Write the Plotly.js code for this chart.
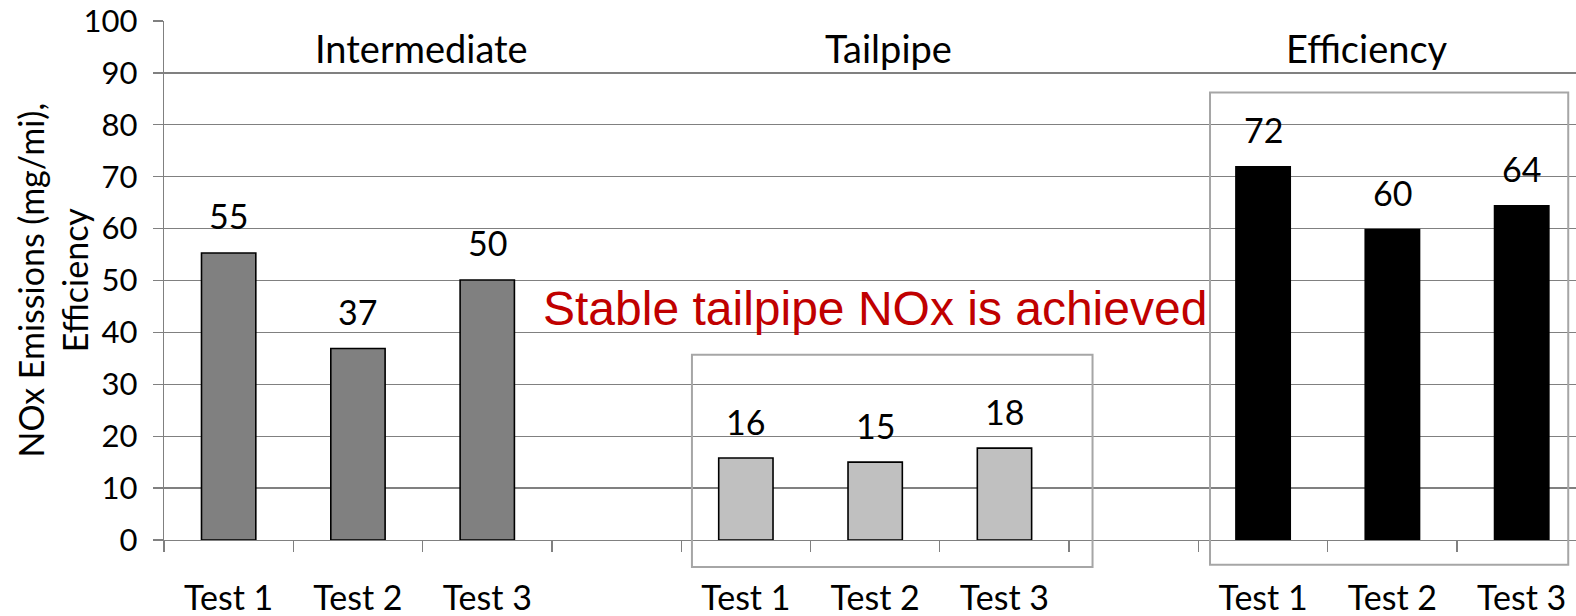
<!DOCTYPE html>
<html><head><meta charset="utf-8">
<script src="https://cdn.plot.ly/plotly-3.0.1.min.js"></script>
<style>html,body{margin:0;padding:0;background:#fff}</style>
</head><body><div id="chart" style="width:1576px;height:616px"></div>
<script>
// Categories (zero-width spaces keep repeated labels distinct)
const categories = ["Test 1","Test 2","Test 3"," ","Test 1\u200b","Test 2\u200b","Test 3\u200b","  ","Test 1\u200b\u200b","Test 2\u200b\u200b","Test 3\u200b\u200b"];
const blankSlots = [" ","  "];
const intermediateX = ["Test 1","Test 2","Test 3"];
const intermediateY = [55.3, 36.9, 50.1];
const tailpipeX = ["Test 1\u200b","Test 2\u200b","Test 3\u200b"];
const tailpipeY = [15.8, 15.0, 17.7];
const efficiencyX = ["Test 1\u200b\u200b","Test 2\u200b\u200b","Test 3\u200b\u200b"];
const efficiencyY = [71.9, 59.8, 64.4];
const groupTitles = ["Intermediate","Tailpipe","Efficiency"];
const calloutText = "Stable tailpipe NOx is achieved";
const yTitle = "NOx Emissions (mg/mi),<br>Efficiency";

const FONT = "Lato, 'Open Sans', sans-serif";

function barTrace(x, y, color, lineColor) {
  return {type:"bar", x:x, y:y, width:0.42,
    marker:{color:color, line:{color:lineColor, width:1.6}},
    hoverinfo:"skip", showlegend:false};
}
const traces = [
  barTrace(intermediateX, intermediateY, "#808080", "#000000"),
  barTrace(tailpipeX, tailpipeY, "#c0c0c0", "#000000"),
  barTrace(efficiencyX, efficiencyY, "#000000", "#000000"),
  {type:"bar", x:blankSlots, y:blankSlots.map(()=>null), showlegend:false, hoverinfo:"skip"}
];

const annotations = [];
[[intermediateX,intermediateY],[tailpipeX,tailpipeY],[efficiencyX,efficiencyY]].forEach(([xs,ys])=>{
  xs.forEach((x,i)=>annotations.push({x:x, y:ys[i], xref:"x", yref:"y", text:String(Math.round(ys[i])),
    showarrow:false, yanchor:"middle", yshift:37, font:{family:FONT,size:34,color:"#000"}}));
});
const titlePos = [1.49, 5.1, 8.8];
groupTitles.forEach((t,i)=>annotations.push({x:titlePos[i], y:94.8, xref:"x", yref:"y", text:t,
  showarrow:false, font:{family:FONT,size:38,color:"#000"}}));
annotations.push({x:5.0, y:44.6, xref:"x", yref:"y", text:calloutText, showarrow:false,
  font:{family:"'Liberation Sans', Arial, sans-serif", size:48, color:"#c00000"}});
annotations.push({x:0, y:0.5, xref:"paper", yref:"paper", xshift:-112, text:yTitle, textangle:-90,
  showarrow:false, xanchor:"center", yanchor:"middle", font:{family:FONT,size:34,color:"#000"}});

const layout = {
  width:1576, height:616,
  margin:{l:164, r:0, t:21, b:76},
  paper_bgcolor:"#fff", plot_bgcolor:"#fff",
  showlegend:false, barmode:"overlay",
  font:{family:FONT, size:31, color:"#000"},
  xaxis:{type:"category", categoryorder:"array", categoryarray:categories,
    range:[-0.5, 10.42], tickson:"boundaries", ticks:"outside", ticklen:11, tickwidth:1.3, tickcolor:"#808080",
    showgrid:false, showline:true, linecolor:"#808080", linewidth:1.3, zeroline:false,
    tickfont:{family:FONT,size:34,color:"#000"}, ticklabelstandoff:28, fixedrange:true},
  yaxis:{range:[0,100], tick0:0, dtick:10, showgrid:true, gridcolor:"#808080", gridwidth:1.3,
    showline:true, linecolor:"#808080", linewidth:1.3, zeroline:false,
    ticks:"outside", ticklen:10, tickwidth:1.3, tickcolor:"#808080",
    tickfont:{family:FONT,size:31,color:"#000"}, ticklabelstandoff:9, fixedrange:true},
  shapes:[
    {type:"rect", xref:"paper", yref:"paper", x0:0.3739, x1:0.6576, y0:-0.052, y1:0.357,
      line:{color:"#a6a6a6", width:2}, layer:"above"},
    {type:"rect", xref:"paper", yref:"paper", x0:0.7408, x1:0.9945, y0:-0.0475, y1:0.862,
      line:{color:"#a6a6a6", width:2}, layer:"above"}
  ],
  annotations:annotations
};
Plotly.newPlot("chart", traces, layout, {displayModeBar:false, staticPlot:true});
</script></body></html>
